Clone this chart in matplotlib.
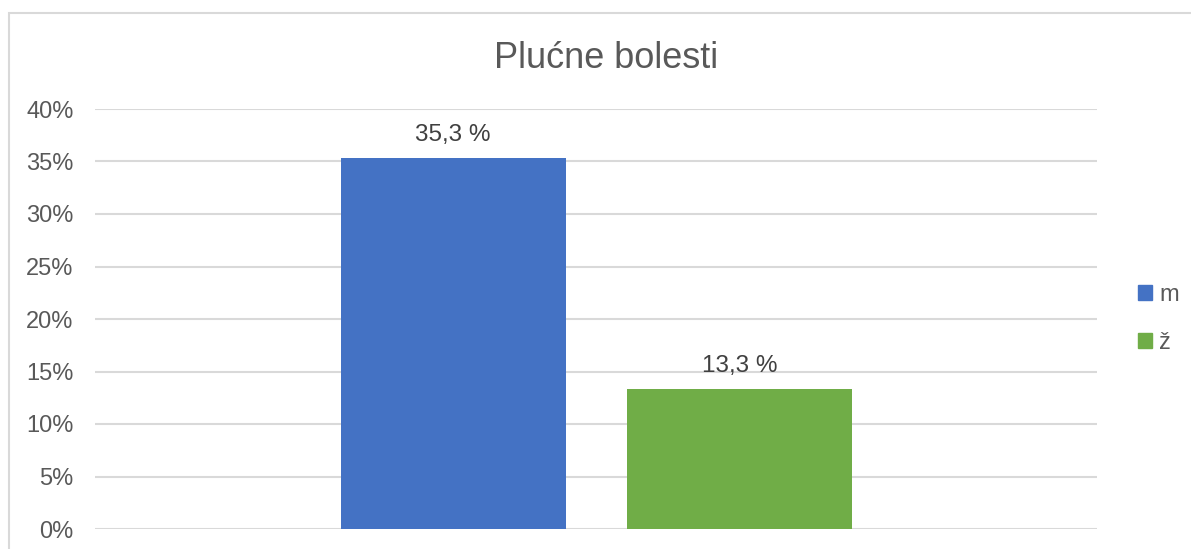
import matplotlib.pyplot as plt
import matplotlib.patches as mpatches
from matplotlib.ticker import PercentFormatter

plt.rcParams['font.family'] = ['Liberation Sans', 'DejaVu Sans']

# podaci
series = ['m', 'ž']
values = [0.353, 0.133]
labels = ['35,3 %', '13,3 %']
colors = ['#4472C4', '#70AD47']
offsets = [-0.1425, 0.1432]

W, H = 1191, 549
fig = plt.figure(figsize=(W / 100, H / 100), dpi=100)
ax = fig.add_axes([95 / W, (H - 529) / H, (1097 - 95) / W, (529 - 109) / H])

bars = []
for s, v, c, o in zip(series, values, colors, offsets):
    b = ax.bar(o, v, width=225 / 1002, color=c, label=s, zorder=3)
    bars.append(b)

for b, lab in zip(bars, labels):
    ax.bar_label(b, labels=[lab], padding=9, fontsize=17.5, color='#404040')

ax.set_xlim(-0.5, 0.5)
ax.set_ylim(0, 0.40)
ax.set_yticks([i * 0.05 for i in range(9)])
ax.yaxis.set_major_formatter(PercentFormatter(1.0, decimals=0))
ax.tick_params(axis='y', length=0, labelsize=17, labelcolor='#595959', pad=15.5)
ax.set_xticks([])
ax.grid(axis='y', color='#D9D9D9', linewidth=1.5, zorder=0)
for sp in ax.spines.values():
    sp.set_visible(False)

fig.text(606 / W, 1 - 59 / H, 'Plućne bolesti', ha='center', va='center',
         fontsize=26, color='#595959')

# okvir grafikona
fig.patches.append(mpatches.Rectangle((9 / W, -0.1), 1.2, 1 - 13 / H + 0.1,
                                      transform=fig.transFigure, fill=False,
                                      edgecolor='#D9D9D9', linewidth=1.5))

handles = [mpatches.Patch(color=c) for c in colors]
fig.legend(handles, series, loc='center left', bbox_to_anchor=(1117 / W, 1 - 319 / H),
           frameon=False, fontsize=17, labelcolor='#595959',
           handlelength=0.6, handleheight=0.6, handletextpad=0.3, labelspacing=1.1)

fig.savefig('out.png', dpi=100)
